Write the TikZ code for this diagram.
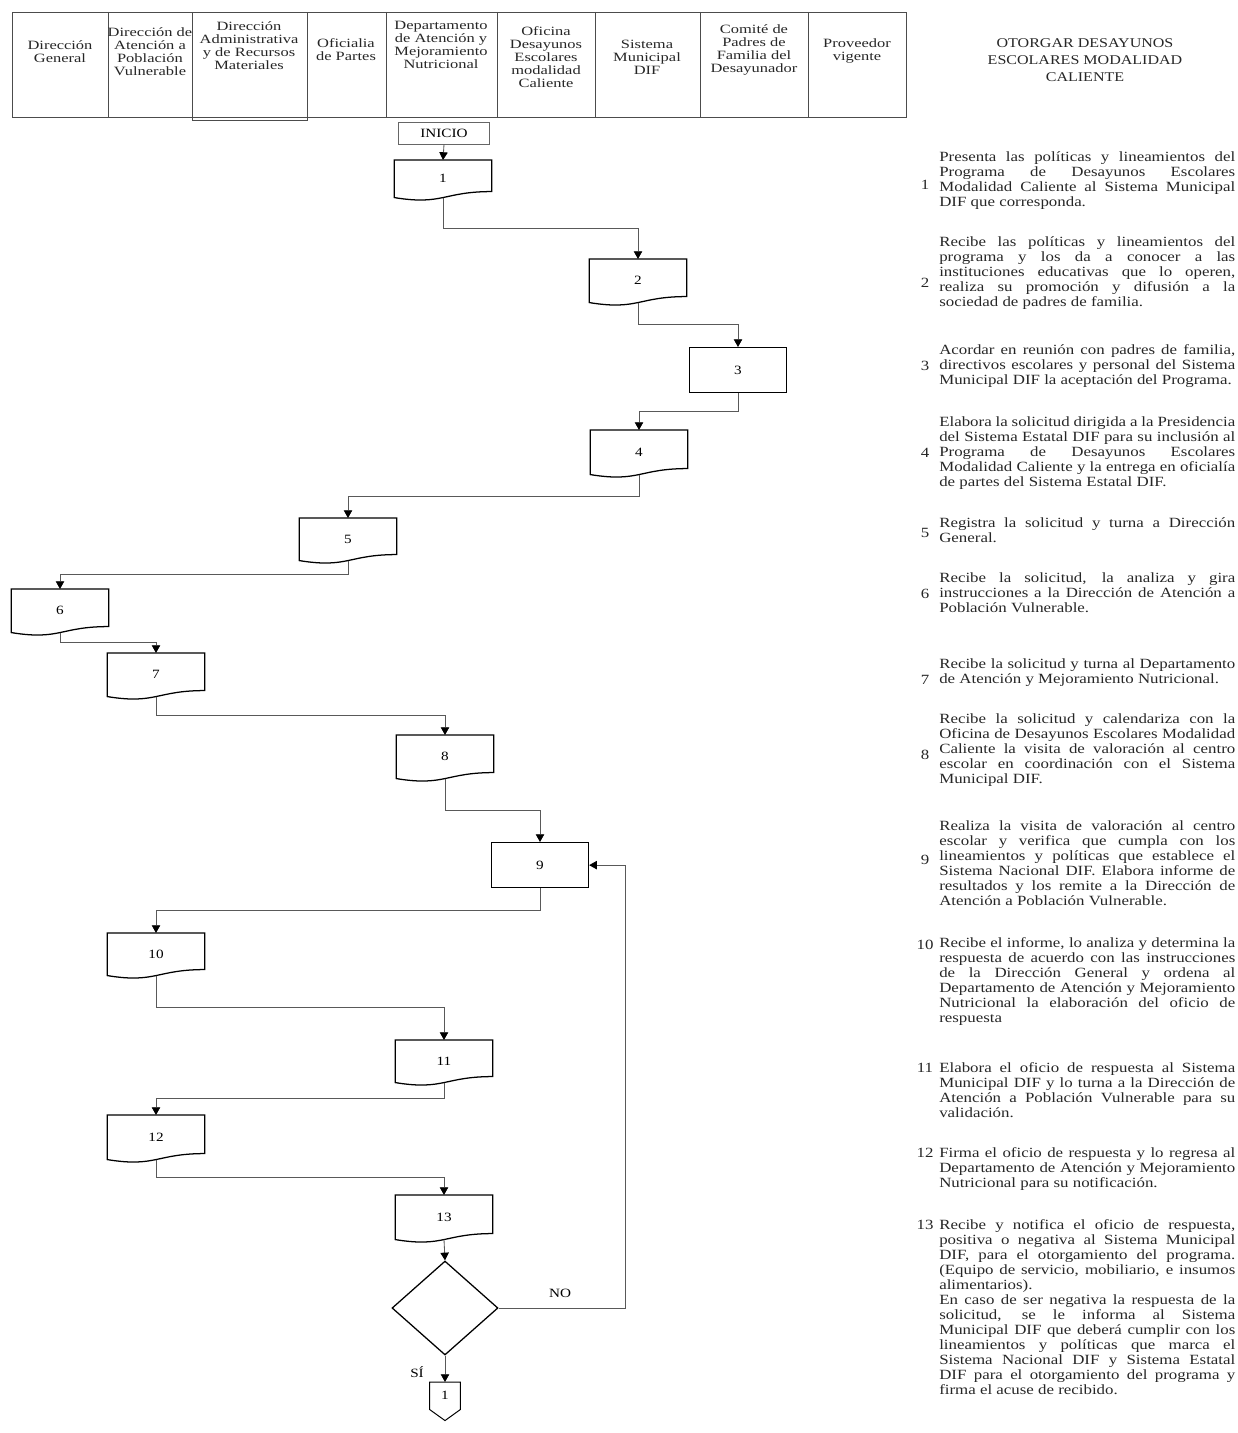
\documentclass[tikz,border=0pt]{standalone}
\usepackage{fontspec}
\setmainfont{Liberation Serif}[FakeStretch=1.2]
\newfontfamily\lanefamily{Liberation Serif}[FakeStretch=1.3]
\usetikzlibrary{arrows.meta, calc, shapes.geometric}

\newlength{\px}
\setlength{\px}{0.025cm}
\newcommand{\lanefont}{\lanefamily\fontsize{9pt}{9.3pt}\selectfont}
\newcommand{\flowfont}{\fontsize{9pt}{10pt}\selectfont}
\newcommand{\descfont}{\fontsize{10pt}{10.7pt}\selectfont}
\newcommand{\titlefont}{\fontsize{9.5pt}{12pt}\selectfont}
\pretolerance=10000
\tolerance=10000
\hbadness=10000

\tikzset{
  lanerule/.style={draw=black!70, line width=0.7pt},
  lane/.style={align=center, font=\lanefont, inner sep=0pt, text=black!85},
  boxline/.style={draw=black, line width=0.9pt},
  docbox/.style={inner sep=0pt, minimum width=97\px, anchor=north, font=\flowfont},
  flow/.style={draw=black!65, line width=0.6pt, -{Triangle[width=6pt,length=5.5pt,black]}},
  desc/.style={anchor=north west, inner sep=0pt, text width=296\px, align=justify, font=\descfont, text=black!85},
  stepnum/.style={font=\descfont, inner sep=0pt, text=black!85},
}

% box with wavy bottom
\newcommand{\docoutline}[1]{%
  \draw[boxline] (#1.north west) -- (#1.north east) -- ($(#1.south east)+(0,-6)$)
    .. controls ($(#1.south)+(0,-6)$) and ($(#1.south)+(0,8)$) .. (#1.south west) -- cycle;}

\begin{document}
\begin{tikzpicture}[x=0.025cm, y=-0.025cm]
    \useasboundingbox (0,0) rectangle (1237,1433);
    % Header
    \draw[lanerule] (12,12) rectangle (906,117);
    \draw[lanerule] (192,12) rectangle (307,120);
    \foreach \x in {108,386,497,595,700,808} {
        \draw[lanerule] (\x,12) -- (\x,117);
    }
    \foreach \lid/\x/\y/\txt in {
        h1/60/52/{Dirección\\General},
        h2/150/52/{Dirección de\\Atención a\\Población\\Vulnerable},
        h3/249/46/{Dirección\\Administrativa\\y de Recursos\\Materiales},
        h4/346/50/{Oficialia\\de Partes},
        h5/441/45/{Departamento\\de Atención y\\Mejoramiento\\Nutricional},
        h6/546/57/{Oficina\\Desayunos\\Escolares\\modalidad\\Caliente},
        h7/647/57/{Sistema\\Municipal\\DIF},
        h8/754/50/{Comité de\\Padres de\\Familia del\\Desayunador},
        h9/857/51/{Proveedor\\vigente}} {
        \node[lane] (\lid) at (\x,\y) {\txt};
    }
    \node[align=center, font=\titlefont, text=black!85] (title) at (1085,60) {OTORGAR DESAYUNOS\\ESCOLARES MODALIDAD\\CALIENTE};

    % Flow
    \node[draw=black!60, minimum width=91\px, minimum height=22\px, inner sep=0pt, font=\flowfont] (inicio) at (444,133) {INICIO};
    \foreach \n/\x/\y/\h in {1/443/160/37, 2/638/259/43, 4/639/430/44, 5/348/518/42, 6/60/589/43, 7/156/653/43,
        8/445/735/43, 10/156/933/42, 11/444/1040/42, 12/156/1115/44, 13/444/1195/44} {
        \node[docbox, minimum height=\h\px] (p\n) at (\x,\y) {\n};
        \docoutline{p\n}
    }
    \foreach \n/\x/\y in {3/738/347, 9/540/842} {
        \node[docbox, boxline, minimum height=45\px] (p\n) at (\x,\y) {\n};
    }
    \node[diamond, boxline, minimum width=106\px, minimum height=94\px, inner sep=0pt] (dec) at (445,1308) {};
    \node[docbox, minimum width=30\px, minimum height=27\px] (off) at (445,1382) {1};
    \draw[draw=black, line width=0.7pt] (off.north west) -- (off.north east) -- (off.south east)
        -- ($(off.south)+(0,11)$) -- (off.south west) -- cycle;

    \draw[flow] (inicio.south) -- (p1.north);
    \foreach \a/\b in {1/2,2/3,3/4,4/5,5/6,6/7,7/8,8/9,9/10,10/11,11/12,12/13} {
        \draw[flow] (p\a.south) |- ($(p\a.south)!.5!(p\b.north)$) -| (p\b.north);
    }
    \draw[flow] (p13.south) -- (dec.north);
    \draw[flow] (dec.south) -- (off.north);
    \draw[flow] (dec.east) -- ++(127,0) |- (p9.east);
    \node[font=\flowfont] (si) at (417,1372) {SÍ};
    \node[font=\flowfont] (no) at (560,1293) {NO};

    % Steps
    \foreach \n/\y in {1/185, 2/283, 3/366, 4/453, 5/533, 6/594, 7/680, 8/755, 9/860, 10/945, 11/1068, 12/1153, 13/1225} {
        \node[stepnum] (n\n) at (925,\y) {\n};
    }
    \node[desc] (d1) at (939,151) {Presenta las políticas y lineamientos del\linebreak Programa de Desayunos Escolares\linebreak Modalidad Caliente al Sistema Municipal\linebreak DIF que corresponda.};
    \node[desc] (d2) at (939,236) {Recibe las políticas y lineamientos del\linebreak programa y los da a conocer a las\linebreak instituciones educativas que lo operen,\linebreak realiza su promoción y difusión a la\linebreak sociedad de padres de familia.};
    \node[desc] (d3) at (939,344) {Acordar en reunión con padres de familia,\linebreak directivos escolares y personal del Sistema\linebreak Municipal DIF la aceptación del Programa.};
    \node[desc] (d4) at (939,416) {Elabora la solicitud dirigida a la Presidencia\linebreak del Sistema Estatal DIF para su inclusión al\linebreak Programa de Desayunos Escolares\linebreak Modalidad Caliente y la entrega en oficialía\linebreak de partes del Sistema Estatal DIF.};
    \node[desc] (d5) at (939,517) {Registra la solicitud y turna a Dirección\linebreak General.};
    \node[desc] (d6) at (939,572) {Recibe la solicitud, la analiza y gira\linebreak instrucciones a la Dirección de Atención a\linebreak Población Vulnerable.};
    \node[desc] (d7) at (939,658) {Recibe la solicitud y turna al Departamento\linebreak de Atención y Mejoramiento Nutricional.};
    \node[desc] (d8) at (939,713) {Recibe la solicitud y calendariza con la\linebreak Oficina de Desayunos Escolares Modalidad\linebreak Caliente la visita de valoración al centro\linebreak escolar en coordinación con el Sistema\linebreak Municipal DIF.};
    \node[desc] (d9) at (939,820) {Realiza la visita de valoración al centro\linebreak escolar y verifica que cumpla con los\linebreak lineamientos y políticas que establece el\linebreak Sistema Nacional DIF. Elabora informe de\linebreak resultados y los remite a la Dirección de\linebreak Atención a Población Vulnerable.};
    \node[desc] (d10) at (939,937) {Recibe el informe, lo analiza y determina la\linebreak respuesta de acuerdo con las instrucciones\linebreak de la Dirección General y ordena al\linebreak Departamento de Atención y Mejoramiento\linebreak Nutricional la elaboración del oficio de\linebreak respuesta};
    \node[desc] (d11) at (939,1062) {Elabora el oficio de respuesta al Sistema\linebreak Municipal DIF y lo turna a la Dirección de\linebreak Atención a Población Vulnerable para su\linebreak validación.};
    \node[desc] (d12) at (939,1147) {Firma el oficio de respuesta y lo regresa al\linebreak Departamento de Atención y Mejoramiento\linebreak Nutricional para su notificación.};
    \node[desc] (d13) at (939,1219) {Recibe y notifica el oficio de respuesta,\linebreak positiva o negativa al Sistema Municipal\linebreak DIF, para el otorgamiento del programa.\linebreak (Equipo de servicio, mobiliario, e insumos\linebreak alimentarios).\newline En caso de ser negativa la respuesta de la\linebreak solicitud, se le informa al Sistema\linebreak Municipal DIF que deberá cumplir con los\linebreak lineamientos y políticas que marca el\linebreak Sistema Nacional DIF y Sistema Estatal\linebreak DIF para el otorgamiento del programa y\linebreak firma el acuse de recibido.};
\end{tikzpicture}
\end{document}
